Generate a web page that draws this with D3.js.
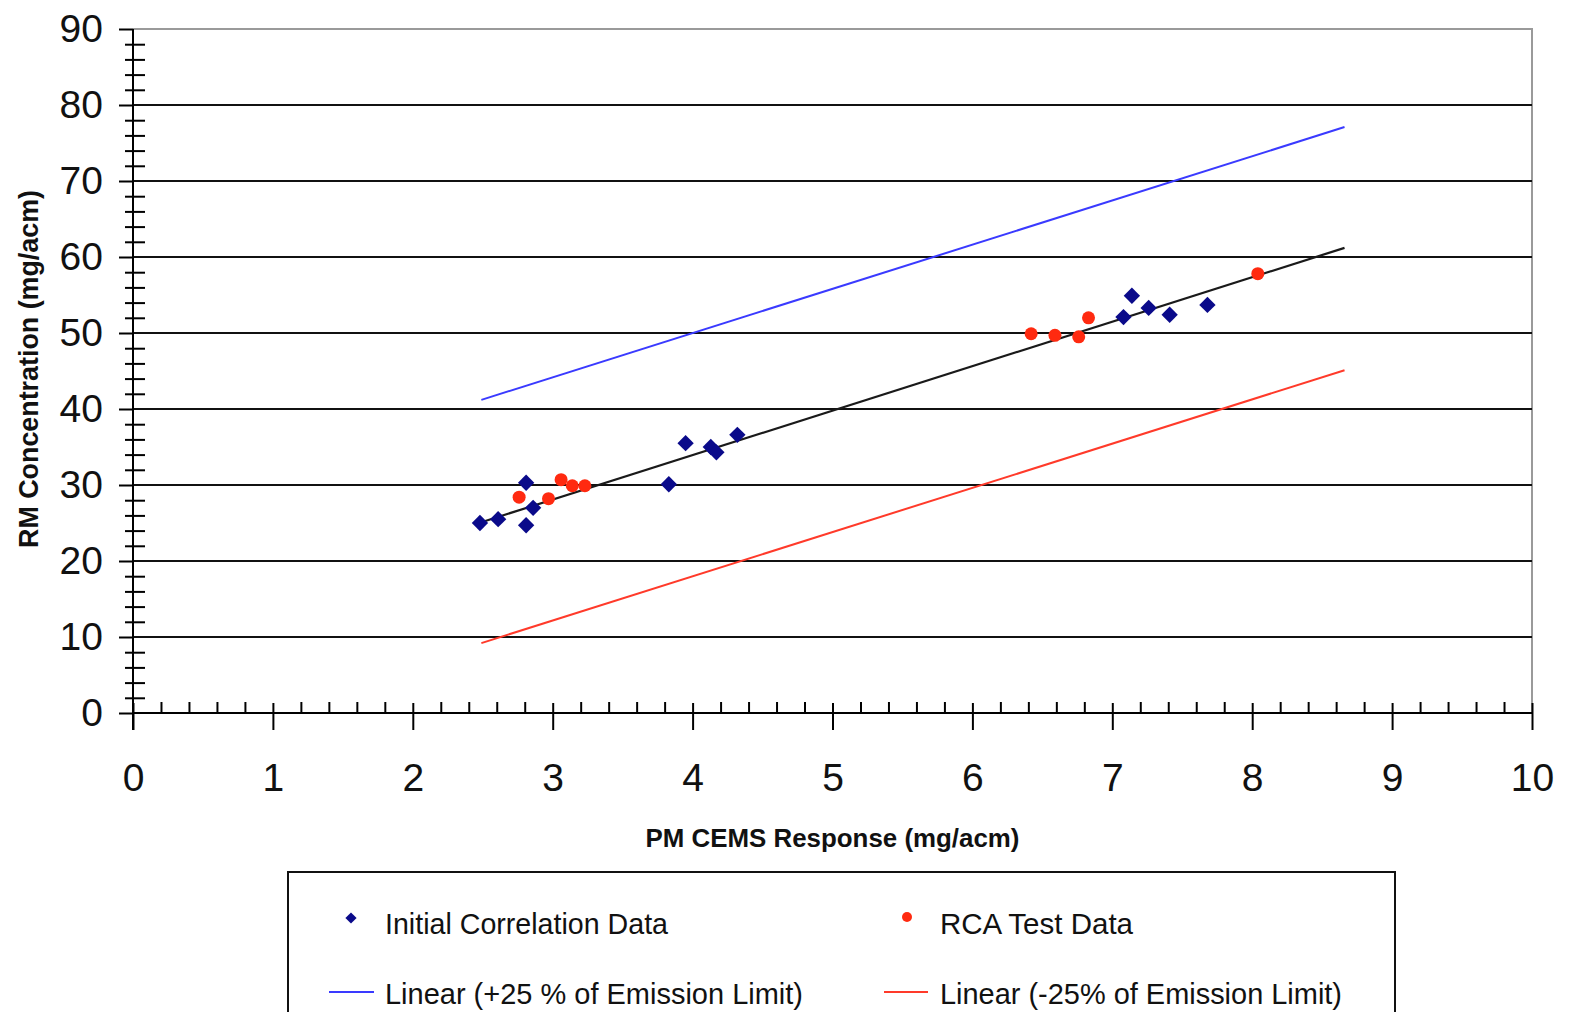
<!DOCTYPE html>
<html>
<head>
<meta charset="utf-8">
<script src="https://cdn.jsdelivr.net/npm/d3@7"></script>
<style>
  body { margin: 0; background: #fff; }
  svg { display: block; font-family: "Liberation Sans", Arial, sans-serif; }
</style>
</head>
<body>
<div id="chart"></div>
<script>
"use strict";

// Initial Correlation Data (blue diamonds)
const initialX = [2.48, 2.61, 2.81, 2.86, 2.81, 3.83, 3.95, 4.13, 4.17, 4.32, 7.08, 7.14, 7.26, 7.41, 7.68];
const initialY = [25.0, 25.5, 30.3, 27.0, 24.7, 30.1, 35.5, 35.0, 34.3, 36.6, 52.1, 54.9, 53.3, 52.4, 53.7];

// RCA Test Data (red dots)
const rcaX = [2.76, 2.97, 3.06, 3.14, 3.23, 6.42, 6.59, 6.76, 6.83, 8.04];
const rcaY = [28.4, 28.2, 30.7, 29.9, 29.9, 49.9, 49.7, 49.5, 52.0, 57.8];

// trend lines, endpoints
const lineX = [2.49, 8.66];
const trendY = [25.1, 61.2];
const upperY = [41.2, 77.1];
const lowerY = [9.2, 45.1];

const xTicks = [0, 1, 2, 3, 4, 5, 6, 7, 8, 9, 10];
const yTicks = [0, 10, 20, 30, 40, 50, 60, 70, 80, 90];

const width = 1570, height = 1012;
const margin = { top: 29, right: 38, bottom: 299, left: 133 };

const svg = d3.select("#chart").append("svg")
  .attr("width", width)
  .attr("height", height);

const x = d3.scaleLinear().domain([0, 10]).range([margin.left, width - margin.right]);
const y = d3.scaleLinear().domain([0, 90]).range([height - margin.bottom, margin.top]);

// plot frame (top + right, gray)
svg.append("path")
  .attr("d", `M${x(0)},${y(90)}H${x(10)}V${y(0)}`)
  .attr("fill", "none")
  .attr("stroke", "#9a9a9a")
  .attr("stroke-width", 2);

// gridlines
svg.append("g").selectAll("line")
  .data(yTicks.filter(d => d > 0 && d < 90))
  .enter().append("line")
  .attr("x1", x(0)).attr("x2", x(10))
  .attr("y1", d => y(d)).attr("y2", d => y(d))
  .attr("stroke", "#111")
  .attr("stroke-width", 2.2);

// y axis: minor ticks crossing the axis
const yMinor = d3.range(0, 91, 2).filter(d => d % 10 !== 0);
svg.append("g")
  .attr("transform", `translate(${x(0) + 12},0)`)
  .call(d3.axisLeft(y).tickValues(yMinor).tickSize(20).tickFormat(""))
  .call(g => g.select(".domain").remove())
  .call(g => g.selectAll("line").attr("stroke", "#000").attr("stroke-width", 2));

// y axis: majors + labels
svg.append("g")
  .attr("transform", `translate(${x(0)},0)`)
  .call(d3.axisLeft(y).tickValues(yTicks).tickSize(14).tickPadding(16))
  .call(g => g.select(".domain").remove())
  .call(g => g.selectAll("line").attr("stroke", "#000").attr("stroke-width", 2))
  .call(g => g.selectAll("text").attr("font-size", 39).attr("fill", "#111")
    .attr("font-family", "'Liberation Sans', Arial, sans-serif"));

// y axis line (runs a little below the x axis)
svg.append("line")
  .attr("x1", x(0)).attr("x2", x(0))
  .attr("y1", y(90)).attr("y2", y(0) + 17)
  .attr("stroke", "#000").attr("stroke-width", 2);

// x axis: minor ticks above the axis
const xMinor = d3.range(0, 10.01, 0.2).map(v => +v.toFixed(1)).filter(d => d % 1 !== 0);
svg.append("g")
  .attr("transform", `translate(0,${y(0)})`)
  .call(d3.axisTop(x).tickValues(xMinor).tickSize(11).tickFormat(""))
  .call(g => g.select(".domain").remove())
  .call(g => g.selectAll("line").attr("stroke", "#000").attr("stroke-width", 2));

// x axis: majors + labels
svg.append("g")
  .attr("transform", `translate(0,${y(0) - 10})`)
  .call(d3.axisBottom(x).tickValues(xTicks).tickSize(27).tickPadding(33))
  .call(g => g.select(".domain").remove())
  .call(g => g.selectAll("line").attr("stroke", "#000").attr("stroke-width", 2))
  .call(g => g.selectAll("text").attr("font-size", 39).attr("fill", "#111")
    .attr("font-family", "'Liberation Sans', Arial, sans-serif"));

svg.append("line")
  .attr("x1", x(0)).attr("x2", x(10))
  .attr("y1", y(0)).attr("y2", y(0))
  .attr("stroke", "#000").attr("stroke-width", 2);

// trend lines
const line = d3.line().x(d => x(d[0])).y(d => y(d[1]));
const lines = [
  { ys: upperY, color: "#3a3aff", w: 2 },
  { ys: lowerY, color: "#ff3a2a", w: 2 },
  { ys: trendY, color: "#1a1a1a", w: 2.2 }
];
lines.forEach(l => {
  svg.append("path")
    .datum(lineX.map((v, i) => [v, l.ys[i]]))
    .attr("d", line)
    .attr("fill", "none")
    .attr("stroke", l.color)
    .attr("stroke-width", l.w);
});

// RCA points
svg.append("g").selectAll("circle")
  .data(rcaX.map((v, i) => [v, rcaY[i]]))
  .enter().append("circle")
  .attr("cx", d => x(d[0]))
  .attr("cy", d => y(d[1]))
  .attr("r", 6.5)
  .attr("fill", "#ff2a10");

// initial correlation points
const diamond = d3.symbol().type(d3.symbolDiamond2).size(170);
svg.append("g").selectAll("path")
  .data(initialX.map((v, i) => [v, initialY[i]]))
  .enter().append("path")
  .attr("d", diamond)
  .attr("transform", d => `translate(${x(d[0])},${y(d[1])})`)
  .attr("fill", "#0a0a8a");

// axis titles
svg.append("text")
  .attr("x", (x(0) + x(10)) / 2)
  .attr("y", 847)
  .attr("text-anchor", "middle")
  .attr("font-size", 25)
  .attr("font-weight", "bold")
  .attr("fill", "#111")
  .attr("textLength", 374)
  .attr("lengthAdjust", "spacingAndGlyphs")
  .text("PM CEMS Response (mg/acm)");

svg.append("text")
  .attr("transform", "rotate(-90)")
  .attr("x", -369)
  .attr("y", 38)
  .attr("text-anchor", "middle")
  .attr("font-size", 27)
  .attr("font-weight", "bold")
  .attr("fill", "#111")
  .attr("textLength", 358)
  .attr("lengthAdjust", "spacingAndGlyphs")
  .text("RM Concentration (mg/acm)");

// legend
const legend = svg.append("g");
legend.append("rect")
  .attr("x", 288).attr("y", 872)
  .attr("width", 1107).attr("height", 200)
  .attr("fill", "none")
  .attr("stroke", "#111")
  .attr("stroke-width", 2);

legend.append("path")
  .attr("d", d3.symbol().type(d3.symbolDiamond2).size(80))
  .attr("transform", "translate(351,918)")
  .attr("fill", "#0a0a8a");
legend.append("circle")
  .attr("cx", 907).attr("cy", 917).attr("r", 5)
  .attr("fill", "#ff2a10");
legend.append("line")
  .attr("x1", 329).attr("x2", 374).attr("y1", 992).attr("y2", 992)
  .attr("stroke", "#3a3aff").attr("stroke-width", 2);
legend.append("line")
  .attr("x1", 884).attr("x2", 928).attr("y1", 992).attr("y2", 992)
  .attr("stroke", "#ff3a2a").attr("stroke-width", 2);

const legendText = [
  { tx: 385, ty: 934, w: 283, label: "Initial Correlation Data" },
  { tx: 940, ty: 934, w: 193, label: "RCA Test Data" },
  { tx: 385, ty: 1004, w: 418, label: "Linear (+25 % of Emission Limit)" },
  { tx: 940, ty: 1004, w: 402, label: "Linear (-25% of Emission Limit)" }
];
legend.selectAll("text.lg")
  .data(legendText)
  .enter().append("text")
  .attr("class", "lg")
  .attr("x", d => d.tx)
  .attr("y", d => d.ty)
  .attr("font-size", 30)
  .attr("fill", "#111")
  .attr("textLength", d => d.w)
  .attr("lengthAdjust", "spacingAndGlyphs")
  .text(d => d.label);
</script>
</body>
</html>
